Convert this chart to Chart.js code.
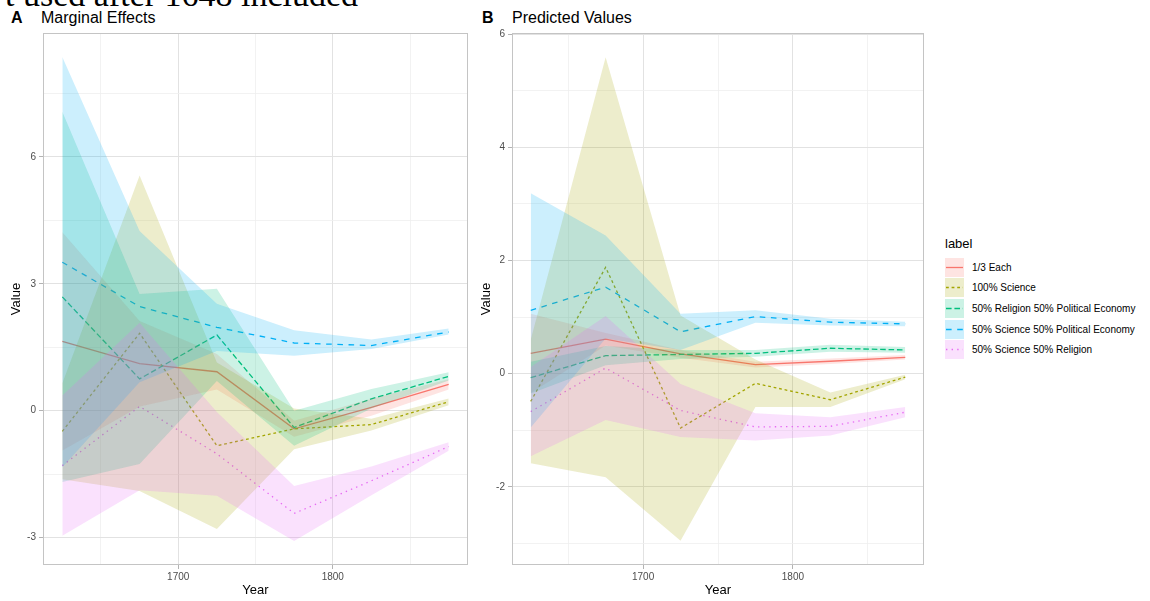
<!DOCTYPE html>
<html><head><meta charset="utf-8">
<script src="https://cdn.jsdelivr.net/npm/chart.js@4.4.1/dist/chart.umd.min.js"></script>
<style>
html,body{margin:0;padding:0;}
body{width:1150px;height:601px;background:#fff;overflow:hidden;position:relative;font-family:"Liberation Sans",Arial,sans-serif;}
canvas.cv{position:absolute;top:0;}
.tag{position:absolute;font-size:16px;line-height:16px;color:#000;white-space:nowrap;}
#cap{position:absolute;left:5px;top:-22px;font-family:"Liberation Serif","DejaVu Serif",serif;font-size:34px;line-height:34px;color:#000;white-space:nowrap;}
#legend{position:absolute;left:945px;top:236px;}
#legend .ttl{font-size:13px;line-height:16px;color:#000;margin-bottom:5px;}
#legend .row{display:flex;align-items:center;height:20.6px;}
#legend .key{width:19px;height:19px;margin-right:8px;}
#legend .txt{font-size:10px;color:#000;}
</style></head><body>
<div id="cap">t used after 1648 included</div>
<div class="tag" style="left:11px;top:10px;font-weight:bold">A</div>
<div class="tag" style="left:41px;top:10px">Marginal Effects</div>
<div class="tag" style="left:482px;top:10px;font-weight:bold">B</div>
<div class="tag" style="left:512px;top:10px">Predicted Values</div>
<canvas id="cA" class="cv" style="left:0px" width="480" height="601"></canvas>
<canvas id="cB" class="cv" style="left:468px" width="470" height="601"></canvas>
<div id="legend"></div>
<script>
// ---------- data ----------
const years = [1625, 1675, 1725, 1775, 1825, 1875];
const labels = ["1/3 Each", "100% Science", "50% Religion 50% Political Economy", "50% Science 50% Political Economy", "50% Science 50% Religion"];
const colors = ["#F8766D", "#A3A500", "#00BF7D", "#00B0F6", "#E76BF3"];

// Panel A: Marginal Effects
const aEachFit  = [1.64, 1.11, 0.92, -0.43, 0.08, 0.62];
const aEachLow  = [-0.94, 0.10, 0.50, -0.62, -0.12, 0.50];
const aEachHigh = [4.22, 2.12, 1.34, -0.24, 0.28, 0.74];
const aSciFit   = [-0.49, 1.83, -0.83, -0.43, -0.33, 0.21];
const aSciLow   = [-1.62, -1.90, -2.80, -0.91, -0.47, 0.13];
const aSciHigh  = [0.64, 5.56, 1.14, 0.05, -0.19, 0.29];
const aRelPEFit = [2.69, 0.75, 1.79, -0.40, 0.28, 0.81];
const aRelPELow = [-1.69, -1.26, 0.70, -0.83, 0.05, 0.71];
const aRelPEHigh= [7.07, 2.76, 2.88, 0.00, 0.51, 0.91];
const aSciPEFit = [3.51, 2.46, 1.97, 1.60, 1.54, 1.86];
const aSciPELow = [-1.34, 0.67, 1.41, 1.30, 1.46, 1.80];
const aSciPEHigh= [8.36, 4.25, 2.53, 1.90, 1.68, 1.94];
const aSciRelFit= [-1.30, 0.10, -1.02, -2.43, -1.66, -0.85];
const aSciRelLow= [-2.96, -1.88, -2.01, -3.08, -2.00, -0.95];
const aSciRelHigh=[0.36, 2.08, -0.03, -1.78, -1.32, -0.75];

// Panel B: Predicted Values
const bEachFit  = [0.36, 0.61, 0.35, 0.16, 0.22, 0.29];
const bEachLow  = [-0.34, 0.50, 0.28, 0.11, 0.17, 0.25];
const bEachHigh = [1.06, 0.72, 0.42, 0.21, 0.27, 0.33];
const bSciFit   = [-0.49, 1.88, -0.96, -0.17, -0.46, -0.06];
const bSciLow   = [-1.58, -1.83, -2.95, -0.59, -0.59, -0.10];
const bSciHigh  = [0.60, 5.59, 1.03, 0.25, -0.33, -0.02];
const bRelPEFit = [-0.07, 0.32, 0.34, 0.36, 0.45, 0.42];
const bRelPELow = [-0.35, 0.15, 0.26, 0.30, 0.39, 0.37];
const bRelPEHigh= [0.21, 0.49, 0.42, 0.42, 0.51, 0.47];
const bSciPEFit = [1.12, 1.53, 0.74, 1.01, 0.91, 0.88];
const bSciPELow = [-0.95, 0.62, 0.42, 0.90, 0.85, 0.84];
const bSciPEHigh= [3.19, 2.44, 1.06, 1.12, 0.97, 0.92];
const bSciRelFit= [-0.67, 0.10, -0.65, -0.94, -0.93, -0.68];
const bSciRelLow= [-1.46, -0.82, -1.12, -1.18, -1.09, -0.77];
const bSciRelHigh=[0.12, 1.02, -0.18, -0.70, -0.77, -0.59];

// ticks
const xMajor = [1700, 1800];
const xMinor = [1650, 1750, 1850];
const aYMajor = [-3, 0, 3, 6];
const aYMinor = [-1.5, 1.5, 4.5, 7.5];
const bYMajor = [-2, 0, 2, 4, 6];
const bYMinor = [-3, -1, 1, 3, 5];

// ---------- styling ----------
const dashes = [[], [2.8, 2.8], [5.6, 2.8], [5.6, 5.6], [1.4, 4.2]];
function rgba(hex, a) {
  const n = parseInt(hex.slice(1), 16);
  return `rgba(${(n >> 16) & 255},${(n >> 8) & 255},${n & 255},${a})`;
}
const pts = arr => years.map((yr, i) => ({x: yr, y: arr[i]}));

// Chart.js draws datasets from the last index to the first, and each fill right
// before its dataset: ribbons first in the array => drawn over all the lines (as ggplot did).
function buildDatasets(fits, lows, highs) {
  const lines = [], ribbons = [];
  for (let k = fits.length - 1; k >= 0; k--) {
    lines.push({
      data: pts(fits[k]), borderColor: colors[k], borderWidth: 1.3,
      borderDash: dashes[k], pointRadius: 0, fill: false, tension: 0
    });
  }
  for (let k = fits.length - 1; k >= 0; k--) {
    ribbons.push({
      data: pts(lows[k]), borderColor: 'transparent', borderWidth: 0,
      pointRadius: 0, fill: false
    });
    ribbons.push({
      data: pts(highs[k]), borderColor: 'transparent', borderWidth: 0,
      pointRadius: 0, fill: '-1', backgroundColor: rgba(colors[k], 0.2)
    });
  }
  return ribbons.concat(lines);
}

const borderPlugin = {
  id: 'panelBorder',
  afterDraw(chart) {
    const {ctx, chartArea: a} = chart;
    ctx.save();
    ctx.strokeStyle = '#c4c4c4';
    ctx.lineWidth = 1;
    ctx.strokeRect(Math.round(a.left) + 0.5, Math.round(a.top) + 0.5,
      Math.round(a.right - a.left) - 1, Math.round(a.bottom - a.top) - 1);
    ctx.restore();
  }
};

const tickFont = {family: '"Liberation Sans", Arial, sans-serif', size: 10};
const titleFont = {family: '"Liberation Sans", Arial, sans-serif', size: 13};

function makeChart(id, datasets, yMin, yMax, yMajor, yMinor, yAxisW, padRight, yTitlePad) {
  const isMaj = (v, list) => list.some(m => Math.abs(m - v) < 1e-9);
  return new Chart(document.getElementById(id), {
    type: 'line',
    data: {datasets},
    plugins: [borderPlugin],
    options: {
      responsive: false, animation: false, events: [],
      layout: {padding: {top: 33, right: padRight, left: 0, bottom: 0}},
      plugins: {legend: {display: false}, tooltip: {enabled: false},
        filler: {drawTime: 'beforeDatasetDraw', propagate: false}},
      scales: {
        x: {
          type: 'linear', min: 1612.5, max: 1887.5,
          afterBuildTicks: s => { s.ticks = xMinor.concat(xMajor).sort((a, b) => a - b).map(v => ({value: v})); },
          afterFit: s => { s.height = 36; },
          ticks: {autoSkip: false, maxRotation: 0, color: '#4d4d4d', font: tickFont, padding: 2,
            callback: v => isMaj(v, xMajor) ? String(v) : ''},
          grid: {
            color: c => isMaj(c.tick.value, xMajor) ? '#e2e2e2' : '#efefef',
            lineWidth: c => isMaj(c.tick.value, xMajor) ? 1 : 0.8,
            tickColor: c => isMaj(c.tick.value, xMajor) ? '#b3b3b3' : 'transparent',
            tickLength: 4
          },
          border: {display: false},
          title: {display: true, text: 'Year', color: '#000', font: titleFont, padding: {top: 0, bottom: 3}}
        },
        y: {
          type: 'linear', min: yMin, max: yMax,
          afterBuildTicks: s => { s.ticks = yMinor.concat(yMajor).sort((a, b) => a - b).map(v => ({value: v})); },
          afterFit: s => { s.width = yAxisW; },
          ticks: {autoSkip: false, color: '#4d4d4d', font: tickFont, padding: 3,
            callback: v => isMaj(v, yMajor) ? String(v) : ''},
          grid: {
            color: c => isMaj(c.tick.value, yMajor) ? '#e2e2e2' : '#efefef',
            lineWidth: c => isMaj(c.tick.value, yMajor) ? 1 : 0.8,
            tickColor: c => isMaj(c.tick.value, yMajor) ? '#b3b3b3' : 'transparent',
            tickLength: 4
          },
          border: {display: false},
          title: {display: true, text: 'Value', color: '#000', font: titleFont, padding: {top: yTitlePad, bottom: 0}}
        }
      }
    }
  });
}

makeChart('cA',
  buildDatasets([aEachFit, aSciFit, aRelPEFit, aSciPEFit, aSciRelFit],
                [aEachLow, aSciLow, aRelPELow, aSciPELow, aSciRelLow],
                [aEachHigh, aSciHigh, aRelPEHigh, aSciPEHigh, aSciRelHigh]),
  -3.65, 8.93, aYMajor, aYMinor, 43, 12, 9);

makeChart('cB',
  buildDatasets([bEachFit, bSciFit, bRelPEFit, bSciPEFit, bSciRelFit],
                [bEachLow, bSciLow, bRelPELow, bSciPELow, bSciRelLow],
                [bEachHigh, bSciHigh, bRelPEHigh, bSciPEHigh, bSciRelHigh]),
  -3.38, 6.02, bYMajor, bYMinor, 44, 14, 11);

// ---------- legend ----------
const leg = document.getElementById('legend');
let html = '<div class="ttl">label</div>';
labels.forEach((lab, k) => {
  const da = dashes[k].length ? `stroke-dasharray="${dashes[k].join(' ')}"` : '';
  html += `<div class="row"><svg class="key" width="19" height="19" style="background:${rgba(colors[k], 0.2)}">` +
    `<line x1="1" y1="9.5" x2="18" y2="9.5" stroke="${colors[k]}" stroke-width="1.3" ${da}/></svg>` +
    `<span class="txt">${lab}</span></div>`;
});
leg.innerHTML = html;
</script>
</body></html>
